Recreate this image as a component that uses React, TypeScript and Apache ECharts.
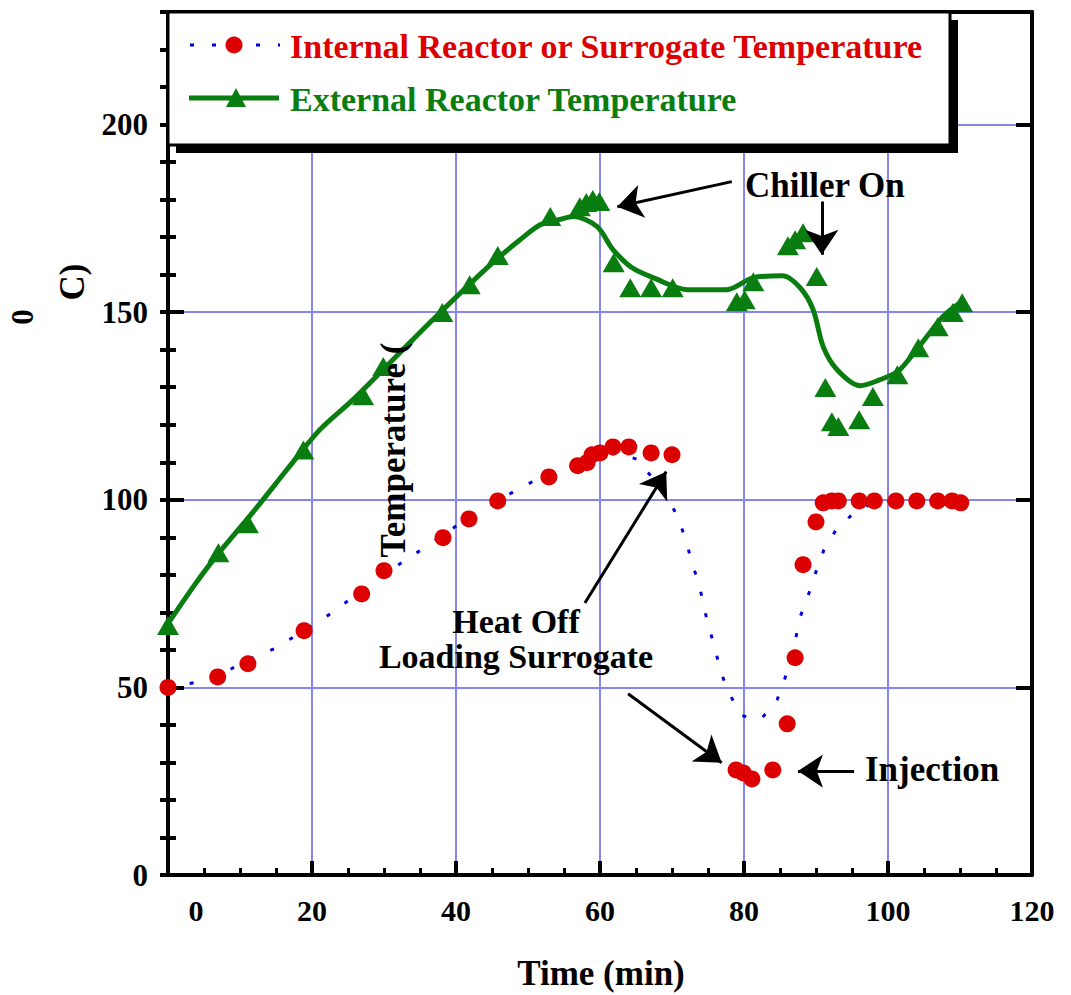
import React, { useEffect, useRef } from "react";
import * as echarts from "echarts";

// Internal reactor / surrogate temperature (red dots)
const internalTime = [0, 6.9, 11.1, 18.9, 26.9, 30.0, 38.2, 41.8, 45.8, 52.9, 56.9, 58.2, 58.9, 60.0, 61.8, 64.0, 67.1, 70.0, 78.9, 79.9, 81.1, 84.0, 86.0, 87.1, 88.2, 90.0, 91.0, 92.2, 93.1, 96.0, 98.1, 101.1, 104.0, 106.9, 108.9, 110.1];
const internalTemp = [50, 52.8, 56.3, 65.1, 74.9, 81.1, 89.9, 94.9, 99.7, 106.1, 109.1, 109.9, 112.0, 112.5, 114.1, 114.1, 112.5, 112.0, 28.0, 27.2, 25.6, 28.0, 40.3, 57.9, 82.7, 94.1, 99.2, 99.7, 99.7, 99.7, 99.7, 99.7, 99.7, 99.7, 99.7, 99.2];

// Internal temperature, dotted blue trace
const blueTime = [0, 4.3, 7.1, 9.0, 12.0, 15.0, 17.9, 21.0, 23.9, 27, 30, 32.8, 35.6, 40, 44.6, 47.5, 50.6, 54, 57, 60, 62.4, 65.3, 69.7, 71.1, 72.1, 72.9, 73.8, 74.4, 75.1, 76.0, 76.7, 77.8, 79.4, 81, 82.4, 84.6, 85.7, 87.2, 87.8, 88.9, 89.9, 91.1, 92.8, 95.7, 98.9, 104, 110];
const blueTemp = [50, 51.5, 52.8, 55.2, 58.1, 60.5, 64, 67.5, 71.5, 76, 80, 83.7, 87.2, 93, 98.4, 101.6, 104.8, 107.5, 109.5, 111.3, 112.5, 110.7, 99.7, 93.9, 88, 82.4, 77.3, 71.7, 66.1, 60.3, 54.4, 49.1, 42.9, 41.5, 41.6, 46.7, 52.5, 63.2, 68.8, 74.4, 80.3, 86.7, 92, 97.3, 99.7, 99.7, 99.7];

// External reactor temperature (green triangles)
const extTime = [0, 7, 11.1, 18.8, 27.1, 29.9, 38.1, 41.9, 45.8, 53.1, 57.2, 58.1, 59.0, 59.9, 61.9, 64.2, 67.1, 70.1, 79.0, 80.1, 81.3, 86.1, 87.1, 88.2, 90.1, 91.3, 92.2, 93.1, 96.0, 97.9, 101.3, 104.2, 106.9, 109.0, 110.3];
const extTemp = [66.5, 85.9, 93.6, 113.3, 127.7, 135.5, 149.9, 157.3, 165.1, 175.5, 178.1, 179.2, 180.0, 179.5, 163.2, 156.5, 156.5, 156.5, 152.8, 153.3, 158.1, 167.7, 169.3, 171.2, 159.5, 129.9, 120.8, 119.5, 121.3, 127.5, 133.3, 140.5, 146.1, 149.9, 152.5];

// External temperature, smooth green curve
const greenTime = [0, 3.5, 6.3, 12.4, 16.5, 21.1, 25.7, 32.2, 37.8, 45.1, 48.9, 51.7, 54.4, 56.3, 59.6, 61.8, 64.4, 67.4, 72.1, 77.6, 81.3, 85.4, 87.8, 89.6, 91, 92.9, 96.1, 98.9, 101.3, 103.1, 105.4, 107.6, 110];
const greenTemp = [67, 76.8, 84, 98.1, 108, 118.7, 126.7, 139.2, 149.9, 163.2, 169.3, 173.3, 174.7, 175.5, 172.8, 166.7, 161.9, 159.2, 156, 156, 159.2, 159.7, 156.5, 150.7, 140.8, 134.7, 130.4, 132, 134.1, 137.9, 143.5, 148.8, 152.5];

// Annotation arrows: [fromTime, fromTemp, toTime, toTemp]
const arrows = [
  [78.3, 184.8, 62.4, 178.1],
  [90.8, 179.5, 90.8, 165.3],
  [57.9, 72.5, 69.2, 107.5],
  [63.9, 48.3, 76.9, 29.9],
  [95.3, 27.7, 87.5, 27.7],
];

const seriesNames = ["Internal Reactor or Surrogate Temperature", "External Reactor Temperature"];

const FONT = "'Liberation Serif', 'Times New Roman', serif";
const RED = "#dd0000";
const GREEN = "#0a7d10";
const BLUE = "#0000dd";
const GRID = "#8686ee";

const zip = (a: number[], b: number[]) => a.map((v, i) => [v, b[i]]);

export default function App() {
  const ref = useRef<HTMLDivElement>(null);
  useEffect(() => {
    if (!ref.current) return;
    const chart = echarts.init(ref.current, null, { renderer: "svg" });
    const blackLine = { show: true, onZero: false, lineStyle: { color: "#000", width: 4 } };
    const hideAll = { axisLabel: { show: false }, splitLine: { show: false } };
    const option: any = {
      animation: false,
      backgroundColor: "#fff",
      grid: { left: 168, right: 39, top: 12, bottom: 120 },
      xAxis: [
        {
          type: "value", position: "bottom", min: 0, max: 120, interval: 20,
          axisLine: blackLine,
          axisTick: { show: true, inside: true, length: 14, lineStyle: { color: "#000", width: 4 } },
          axisLabel: {
            margin: 20, fontFamily: FONT, fontWeight: "bold", fontSize: 30, color: "#000",
            formatter: (v: number) => (v === 0 ? "{z|0}" : String(v)),
            rich: { z: { padding: [0, 0, 0, 56], fontFamily: FONT, fontWeight: "bold", fontSize: 30, color: "#000" } },
          },
          splitLine: { show: true, lineStyle: { color: GRID, width: 2 } },
        },
        {
          type: "value", position: "bottom", min: 0, max: 120, interval: 5,
          axisLine: { show: false, onZero: false },
          axisTick: { show: true, inside: true, length: 7, lineStyle: { color: "#000", width: 3 } },
          ...hideAll,
        },
        {
          type: "value", position: "top", min: 0, max: 120, interval: 20,
          axisLine: blackLine, axisTick: { show: false }, ...hideAll,
        },
      ],
      yAxis: [
        {
          type: "value", position: "left", min: 0, max: 230, interval: 50,
          axisLine: blackLine,
          axisTick: { show: true, inside: true, length: 16, lineStyle: { color: "#000", width: 4 } },
          axisLabel: {
            margin: 20, fontFamily: FONT, fontWeight: "bold", fontSize: 31, color: "#000",
            padding: [0, 0, 9, 0],
            formatter: (v: number) => (v <= 200 ? String(v) : ""),
          },
          splitLine: { show: true, lineStyle: { color: GRID, width: 2 } },
        },
        {
          type: "value", position: "left", min: 0, max: 230, interval: 10,
          axisLine: { show: false },
          axisTick: { show: true, inside: true, length: 8, lineStyle: { color: "#000", width: 4 } },
          ...hideAll,
        },
        {
          type: "value", position: "right", min: 0, max: 230, interval: 50,
          axisLine: blackLine,
          axisTick: { show: true, inside: true, length: 16, lineStyle: { color: "#000", width: 4 } },
          ...hideAll,
        },
        {
          type: "value", position: "right", min: 0, max: 230, interval: 10,
          axisLine: { show: false },
          axisTick: { show: true, inside: true, length: 8, lineStyle: { color: "#000", width: 4 } },
          ...hideAll,
        },
      ],
      series: [
        {
          name: seriesNames[1] + " fit", type: "line", data: zip(greenTime, greenTemp),
          smooth: 0.3, symbol: "none", z: 2, silent: true,
          lineStyle: { color: GREEN, width: 5 },
        },
        {
          name: seriesNames[1], type: "scatter", data: zip(extTime, extTemp),
          symbol: "triangle", symbolSize: [22, 19], z: 3, silent: true,
          itemStyle: { color: GREEN, opacity: 1 },
        },
        {
          name: seriesNames[0] + " trace", type: "line", data: zip(blueTime, blueTemp),
          symbol: "none", z: 2, silent: true,
          lineStyle: { color: BLUE, width: 3, type: [4, 18] },
        },
        {
          name: seriesNames[0], type: "scatter", data: zip(internalTime, internalTemp),
          symbol: "circle", symbolSize: 17, z: 4, silent: true,
          itemStyle: { color: RED, opacity: 1 },
        },
        {
          name: "arrows", type: "line", data: [], z: 6, silent: true,
          markLine: {
            silent: true, symbol: ["none", "arrow"], symbolSize: 25,
            label: { show: false },
            lineStyle: { color: "#000", width: 3, type: "solid" },
            emphasis: { disabled: true },
            data: arrows.map((a) => [{ coord: [a[0], a[1]] }, { coord: [a[2], a[3]] }]),
          },
        },
      ],
      graphic: [
        { type: "rect", z: 100, shape: { x: 176, y: 20, width: 782, height: 133 }, style: { fill: "#000" } },
        { type: "rect", z: 101, shape: { x: 168, y: 12, width: 782, height: 133 }, style: { fill: "#fff", stroke: "#000", lineWidth: 3 } },
        { type: "line", z: 102, shape: { x1: 190, y1: 45, x2: 280, y2: 45 }, style: { stroke: BLUE, lineWidth: 3, lineDash: [4, 18] } },
        { type: "circle", z: 103, shape: { cx: 234, cy: 45, r: 8.5 }, style: { fill: RED } },
        { type: "line", z: 102, shape: { x1: 189, y1: 98, x2: 279, y2: 98 }, style: { stroke: GREEN, lineWidth: 5 } },
        { type: "polygon", z: 103, shape: { points: [[236, 88], [246, 107], [226, 107]] }, style: { fill: GREEN } },
        { type: "text", z: 103, x: 290, y: 46, style: { text: seriesNames[0], font: `bold 34px ${FONT}`, fill: RED, textAlign: "left", textVerticalAlign: "middle" } },
        { type: "text", z: 103, x: 290, y: 99, style: { text: seriesNames[1], font: `bold 34px ${FONT}`, fill: GREEN, textAlign: "left", textVerticalAlign: "middle" } },
        { type: "text", z: 50, x: 745, y: 185, style: { text: "Chiller On", font: `bold 35px ${FONT}`, fill: "#000", textAlign: "left", textVerticalAlign: "middle" } },
        { type: "text", z: 50, x: 516, y: 621, style: { text: "Heat Off", font: `bold 34px ${FONT}`, fill: "#000", textAlign: "center", textVerticalAlign: "middle" } },
        { type: "text", z: 50, x: 516, y: 656, style: { text: "Loading Surrogate", font: `bold 34px ${FONT}`, fill: "#000", textAlign: "center", textVerticalAlign: "middle" } },
        { type: "text", z: 50, x: 865, y: 769, style: { text: "Injection", font: `bold 35px ${FONT}`, fill: "#000", textAlign: "left", textVerticalAlign: "middle" } },
        { type: "text", z: 50, x: 601, y: 973, style: { text: "Time (min)", font: `bold 35px ${FONT}`, fill: "#000", textAlign: "center", textVerticalAlign: "middle" } },
        { type: "text", z: 50, x: 393, y: 450, rotation: Math.PI / 2, style: { text: "Temperature (", font: `bold 35px ${FONT}`, fill: "#000", textAlign: "center", textVerticalAlign: "middle" } },
        { type: "text", z: 50, x: 72, y: 282, rotation: Math.PI / 2, style: { text: "C)", font: `bold 35px ${FONT}`, fill: "#000", textAlign: "center", textVerticalAlign: "middle" } },
        { type: "text", z: 50, x: 22, y: 317, rotation: Math.PI / 2, style: { text: "0", font: `bold 31px ${FONT}`, fill: "#000", textAlign: "center", textVerticalAlign: "middle" } },
      ],
    };
    chart.setOption(option);
    return () => chart.dispose();
  }, []);
  return <div ref={ref} style={{ position: "absolute", left: 0, top: 0, width: 1071, height: 995 }} />;
}
